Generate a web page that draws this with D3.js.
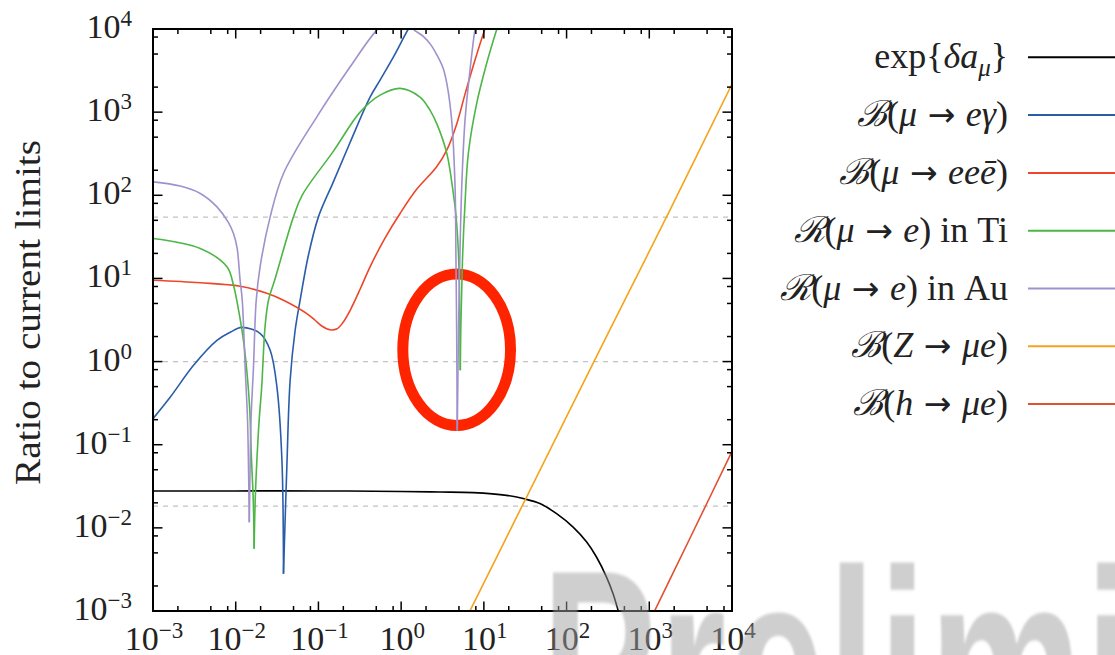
<!DOCTYPE html>
<html>
<head>
<meta charset="utf-8">
<script src="https://cdn.jsdelivr.net/npm/d3@7"></script>
<style>
  html, body { margin: 0; padding: 0; background: #fff; }
  svg { display: block; }
</style>
</head>
<body>
<svg id="chart" width="1115" height="655"></svg>
<script>
// ---- axes ----------------------------------------------------------------
const xDomain = [1e-3, 1e4];
const yDomain = [1e-3, 1e4];
const decadeExps = [-3, -2, -1, 0, 1, 2, 3, 4];
const minorSteps = [2, 5, 8];
const refLevels = [54.6, 1, 0.0183];
const yTitle = "Ratio to current limits";
const watermark = "Preliminary";

// ---- series: [x, ratio] ----------------------------------------------------
const expDeltaA = [
  [0.001, 0.0278], [0.01, 0.0278], [0.1, 0.0278], [1, 0.0274], [2.95, 0.0270],
  [7.45, 0.0265], [18.8, 0.0246], [29.9, 0.0225], [47.6, 0.0196], [75.7, 0.0148],
  [120, 0.0102], [175, 0.00675], [230, 0.00446], [304, 0.00256], [365, 0.00161],
  [420, 0.00102], [445, 0.00085]
];
const muEGamma = [
  [0.001, 0.206], [0.00162, 0.375], [0.00309, 0.903], [0.00593, 1.80], [0.00859, 2.25],
  [0.0118, 2.58], [0.0198, 2.17], [0.0261, 1.37], [0.0315, 0.494], [0.0362, 0.0649],
  [0.0378, 0.00281], [0.0415, 0.0539], [0.0455, 0.596], [0.0523, 2.38], [0.0601, 5.47],
  [0.0752, 18.5], [0.100, 55.0], [0.152, 146], [0.242, 435], [0.421, 1517],
  [0.556, 2427], [0.843, 4990], [1.22, 10000], [1.95, 21000]
];
const muEEE = [
  [0.001, 9.51], [0.00373, 8.87], [0.0113, 8.05], [0.0238, 6.64], [0.0378, 5.47],
  [0.0724, 3.78], [0.0912, 3.14], [0.111, 2.66], [0.138, 2.41], [0.168, 2.48],
  [0.199, 2.97], [0.242, 4.14], [0.319, 7.41], [0.421, 13.8], [0.638, 30.5],
  [0.970, 60.4], [1.54, 118], [2.69, 220], [3.56, 349], [4.69, 717],
  [5.92, 1648], [7.82, 4230], [10.3, 9970], [11.9, 14700]
];
const convTi = [
  [0.001, 30.2], [0.00373, 22.9], [0.00783, 13.8], [0.0094, 8.28], [0.0111, 3.61],
  [0.0124, 1.80], [0.0136, 0.786], [0.0148, 0.259], [0.0154, 0.0788], [0.0163, 0.0214],
  [0.0167, 0.00562], [0.0172, 0.0214], [0.0182, 0.0788], [0.0192, 0.197], [0.0206, 0.491],
  [0.0227, 2.73], [0.0249, 5.47], [0.0300, 10.0], [0.0499, 55.0], [0.0635, 100],
  [0.152, 340], [0.319, 1000], [0.556, 1600], [0.970, 1930], [1.69, 1515],
  [2.23, 1057], [2.71, 717], [3.56, 321], [4.27, 106], [4.60, 57.6],
  [4.91, 21.8], [5.07, 7.21], [5.14, 2.38], [5.19, 0.786], [5.26, 2.38],
  [5.40, 7.21], [5.55, 19.9], [5.92, 79.7], [6.49, 318], [8.19, 1273],
  [10.8, 3850], [14.3, 9890], [15.6, 12800]
];
const convAu = [
  [0.001, 145], [0.00214, 129], [0.00373, 105], [0.00593, 72.5], [0.00811, 47.5],
  [0.0094, 34.7], [0.0104, 23.1], [0.0113, 9.51], [0.0120, 5.47], [0.0130, 0.861],
  [0.0139, 0.197], [0.0143, 0.0492], [0.0146, 0.0117], [0.0149, 0.0492], [0.0153, 0.197],
  [0.0164, 0.861], [0.0177, 5.47], [0.0197, 13.8], [0.0261, 55.0], [0.0378, 183],
  [0.0957, 878], [0.242, 3510], [0.507, 9700], [0.843, 15100], [1.03, 15600],
  [1.39, 10000], [1.84, 8220], [2.30, 6400], [2.71, 4850], [3.21, 3390],
  [3.58, 2170], [4.08, 801], [4.48, 132], [4.60, 16.6], [4.69, 2.38],
  [4.77, 0.148], [4.96, 3.14], [5.14, 19.9], [5.40, 126], [5.92, 801],
  [6.80, 3200], [7.82, 9890], [8.5, 14700]
];
const zMuE = [
  [6.5, 0.00092], [41.4, 0.0373], [333, 2.40], [1770, 66], [10000, 2180]
];
const hMuE = [
  [1000, 0.00074], [3000, 0.0070], [10000, 0.083]
];

const seriesData = [expDeltaA, muEGamma, muEEE, convTi, convAu, zMuE, hMuE];
const seriesColors = ["#000000", "#2a5da9", "#ee4628", "#4db646", "#a091cd", "#f5a31c", "#e3502f"];

// legend labels as math runs: rm = upright, it = italic, sub = italic subscript,
// cal = script capital, rel = relation arrow
const legendLabels = [
  [["rm", "exp{"], ["it", "δa"], ["sub", "μ"], ["rm", "}"]],
  [["cal", "ℬ"], ["rm", "("], ["it", "μ"], ["rel", "→"], ["it", "eγ"], ["rm", ")"]],
  [["cal", "ℬ"], ["rm", "("], ["it", "μ"], ["rel", "→"], ["it", "eeē"], ["rm", ")"]],
  [["cal", "ℛ"], ["rm", "("], ["it", "μ"], ["rel", "→"], ["it", "e"], ["rm", ")\u00a0in\u00a0Ti"]],
  [["cal", "ℛ"], ["rm", "("], ["it", "μ"], ["rel", "→"], ["it", "e"], ["rm", ")\u00a0in\u00a0Au"]],
  [["cal", "ℬ"], ["rm", "("], ["it", "Z"], ["rel", "→"], ["it", "μe"], ["rm", ")"]],
  [["cal", "ℬ"], ["rm", "("], ["it", "h"], ["rel", "→"], ["it", "μe"], ["rm", ")"]]
];

// circled region around the Au / Ti cancellation: centre [x, y] and half-extent in decades
const highlightCentre = [4.69, 1.39];
const highlightHalfDecades = [0.651, 0.911];

// ---- layout ----------------------------------------------------------------
const W = 1115, H = 655;
const plot = { left: 153, right: 732, top: 29, bottom: 611 };
const serif = "'Liberation Serif', 'Times New Roman', 'DejaVu Serif', serif";

const svg = d3.select("#chart");
const x = d3.scaleLog().domain(xDomain).range([plot.left, plot.right]);
const y = d3.scaleLog().domain(yDomain).range([plot.bottom, plot.top]);

const defs = svg.append("defs");
defs.append("clipPath").attr("id", "plotClip")
  .append("rect")
  .attr("x", plot.left).attr("y", plot.top)
  .attr("width", plot.right - plot.left).attr("height", plot.bottom - plot.top);
defs.append("filter").attr("id", "soft")
  .attr("x", "-5%").attr("y", "-5%").attr("width", "110%").attr("height", "110%")
  .append("feGaussianBlur").attr("stdDeviation", 1.1);

// reference levels
svg.append("g").selectAll("line").data(refLevels).join("line")
  .attr("x1", plot.left).attr("x2", plot.right)
  .attr("y1", d => y(d)).attr("y2", d => y(d))
  .attr("stroke", "#c2c2c2").attr("stroke-width", 1.3)
  .attr("stroke-dasharray", "5,5");

// highlight ellipse
const hx = x(highlightCentre[0]), hy = y(highlightCentre[1]);
svg.append("ellipse")
  .attr("cx", hx).attr("cy", hy)
  .attr("rx", x(highlightCentre[0] * Math.pow(10, highlightHalfDecades[0])) - hx)
  .attr("ry", hy - y(highlightCentre[1] * Math.pow(10, highlightHalfDecades[1])))
  .attr("fill", "none").attr("stroke", "#ff2400").attr("stroke-width", 11);

// curves: split at sharp cancellation dips so each branch keeps its cusp
function splitAtDips(pts) {
  const segs = [];
  let cur = [pts[0]];
  for (let i = 1; i < pts.length; i++) {
    cur.push(pts[i]);
    if (i < pts.length - 1 && pts[i][1] < 0.5 * pts[i - 1][1] && pts[i][1] < 0.5 * pts[i + 1][1]) {
      segs.push(cur);
      cur = [pts[i]];
    }
  }
  segs.push(cur);
  return segs;
}
const line = d3.line().x(d => x(d[0])).y(d => y(d[1])).curve(d3.curveCatmullRom.alpha(0.5));
const curves = svg.append("g").attr("clip-path", "url(#plotClip)");
seriesData.forEach((pts, i) => {
  curves.append("g").selectAll("path").data(splitAtDips(pts)).join("path")
    .attr("d", line)
    .attr("fill", "none")
    .attr("stroke", seriesColors[i])
    .attr("stroke-width", 1.6)
    .attr("stroke-linejoin", "round");
});

// frame with inward ticks on all four sides
const majors = decadeExps.map(e => Math.pow(10, e));
const minors = decadeExps.slice(0, -1).flatMap(e => minorSteps.map(m => m * Math.pow(10, e)));
const tickSet = majors.map(v => ({ v, len: 9.5 })).concat(minors.map(v => ({ v, len: 5 })));
const frame = svg.append("g").attr("stroke", "#000");
frame.selectAll("line.tb").data(tickSet).join("line").attr("class", "tb")
  .attr("x1", d => x(d.v)).attr("x2", d => x(d.v))
  .attr("y1", plot.bottom).attr("y2", d => plot.bottom - d.len).attr("stroke-width", 1.5);
frame.selectAll("line.tt").data(tickSet).join("line").attr("class", "tt")
  .attr("x1", d => x(d.v)).attr("x2", d => x(d.v))
  .attr("y1", plot.top).attr("y2", d => plot.top + d.len).attr("stroke-width", 1.5);
frame.selectAll("line.tl").data(tickSet).join("line").attr("class", "tl")
  .attr("y1", d => y(d.v)).attr("y2", d => y(d.v))
  .attr("x1", plot.left).attr("x2", d => plot.left + d.len).attr("stroke-width", 1.5);
frame.selectAll("line.tr").data(tickSet).join("line").attr("class", "tr")
  .attr("y1", d => y(d.v)).attr("y2", d => y(d.v))
  .attr("x1", plot.right).attr("x2", d => plot.right - d.len).attr("stroke-width", 1.5);
frame.append("rect")
  .attr("x", plot.left).attr("y", plot.top)
  .attr("width", plot.right - plot.left).attr("height", plot.bottom - plot.top)
  .attr("fill", "none").attr("stroke-width", 2);

// tick labels 10^n
function powerLabel(sel, e) {
  sel.append("tspan").text("10");
  sel.append("tspan").attr("font-size", 23).attr("dy", -12)
    .text(String(e).replace("-", "\u2212"));
}
svg.append("g").selectAll("text").data(decadeExps).join("text")
  .attr("x", e => x(Math.pow(10, e)) + 1).attr("y", 650)
  .attr("text-anchor", "middle")
  .attr("font-family", serif).attr("font-size", 34).attr("fill", "#222")
  .each(function (e) { powerLabel(d3.select(this), e); });
svg.append("g").selectAll("text").data(decadeExps).join("text")
  .attr("x", 132).attr("y", e => y(Math.pow(10, e)) + 9)
  .attr("text-anchor", "end")
  .attr("font-family", serif).attr("font-size", 34).attr("fill", "#222")
  .each(function (e) { powerLabel(d3.select(this), e); });

// axis title
svg.append("text")
  .attr("transform", "translate(40,312.5) rotate(-90)")
  .attr("text-anchor", "middle")
  .attr("font-family", serif).attr("font-size", 36).attr("fill", "#222")
  .attr("textLength", 345).attr("lengthAdjust", "spacingAndGlyphs")
  .text(yTitle);

// legend
const legendTop = 57.3, legendStep = 57.8;
const legend = svg.append("g");
legendLabels.forEach((runs, i) => {
  const ly = legendTop + i * legendStep;
  legend.append("line")
    .attr("x1", 1028).attr("x2", W).attr("y1", ly).attr("y2", ly)
    .attr("stroke", seriesColors[i]).attr("stroke-width", 2);
  const t = legend.append("text")
    .attr("x", 1008).attr("y", ly + 11)
    .attr("text-anchor", "end")
    .attr("font-family", serif).attr("font-size", 36).attr("fill", "#222");
  let shifted = false;
  runs.forEach(([kind, str]) => {
    const ts = t.append("tspan").text(kind === "rel" ? "\u00a0" + str + "\u00a0" : str);
    if (kind === "it" || kind === "sub") ts.attr("font-style", "italic");
    if (kind === "cal") ts.attr("font-family", "'DejaVu Serif', serif").attr("font-style", "italic");
    if (kind === "rel") ts.attr("font-family", "'DejaVu Sans', sans-serif").attr("font-size", 33);
    if (kind === "sub") { ts.attr("font-size", 25).attr("dy", 8); shifted = true; }
    else if (shifted) { ts.attr("dy", -8); shifted = false; }
  });
});

// draft watermark
svg.append("text")
  .attr("transform", "translate(541.5,757) scale(1,1.56)")
  .attr("font-family", "'Liberation Sans', Arial, sans-serif")
  .attr("font-weight", "bold").attr("font-size", 172)
  .attr("letter-spacing", 3)
  .attr("fill", "#a0a0a0").attr("fill-opacity", 0.5)
  .attr("filter", "url(#soft)")
  .text(watermark);
</script>
</body>
</html>
